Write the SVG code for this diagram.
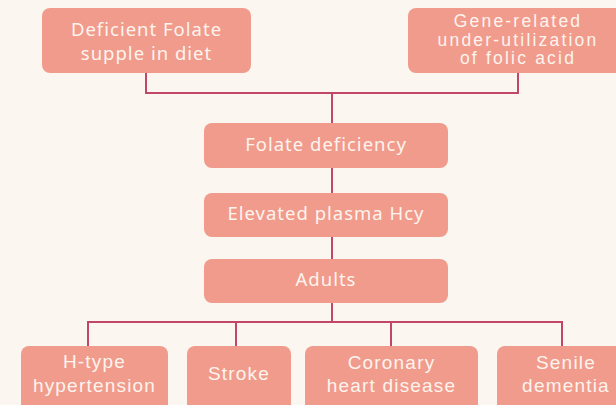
<svg xmlns="http://www.w3.org/2000/svg" width="616" height="405" viewBox="0 0 616 405">
<style>
.box{fill:#F19B8C}
.p{font-family:"Noto Sans","DejaVu Sans",sans-serif;font-size:18.5px;fill:#FDF4EE;text-anchor:middle;letter-spacing:1px}
.a{font-family:"Liberation Sans",Arial,sans-serif;font-size:19px;fill:#FDF4EE;text-anchor:middle;letter-spacing:1.2px}
.a2{font-family:"Liberation Sans",Arial,sans-serif;font-size:17.5px;fill:#FDF4EE;text-anchor:middle;letter-spacing:2.2px}
.c{fill:none;stroke:#C2456A;stroke-width:2}
</style>
<rect width="616" height="405" fill="#FBF7F0"/>
<g id="connectors">
<path class="c" d="M146 73V93H518V73M332 93V123M332 168V193M332 237V259M332 303V322M88 346V322H562V346M236 322V346M391 322V346"/>
</g>
<g id="n1"><rect class="box" x="42" y="8" width="209" height="65" rx="8"/><text class="p" x="146.5" y="36">Deficient Folate</text><text class="p" x="146.5" y="60">supple in diet</text></g>
<g id="n2"><rect class="box" x="408" y="8" width="222" height="65" rx="8"/><text class="a2" x="518" y="27">Gene-related</text><text class="a2" x="518" y="45.5">under-utilization</text><text class="a2" x="518" y="64">of folic acid</text></g>
<g id="n3"><rect class="box" x="204" y="123" width="244" height="45" rx="8"/><text class="p" x="326" y="151">Folate deficiency</text></g>
<g id="n4"><rect class="box" x="204" y="193" width="244" height="44" rx="8"/><text class="p" x="326" y="220">Elevated plasma Hcy</text></g>
<g id="n5"><rect class="box" x="204" y="259" width="244" height="44" rx="8"/><text class="p" x="326" y="286">Adults</text></g>
<g id="n6"><rect class="box" x="21" y="346" width="147" height="70" rx="8"/><text class="a" x="94.5" y="368">H-type</text><text class="a" x="94.5" y="392">hypertension</text></g>
<g id="n7"><rect class="box" x="187" y="346" width="104" height="70" rx="8"/><text class="a" x="239" y="380">Stroke</text></g>
<g id="n8"><rect class="box" x="305" y="346" width="173" height="70" rx="8"/><text class="a" x="391.5" y="369">Coronary</text><text class="a" x="391.5" y="392">heart disease</text></g>
<g id="n9"><rect class="box" x="497" y="346" width="138" height="70" rx="8"/><text class="a" x="566" y="369">Senile</text><text class="a" x="566" y="392">dementia</text></g>
</svg>
